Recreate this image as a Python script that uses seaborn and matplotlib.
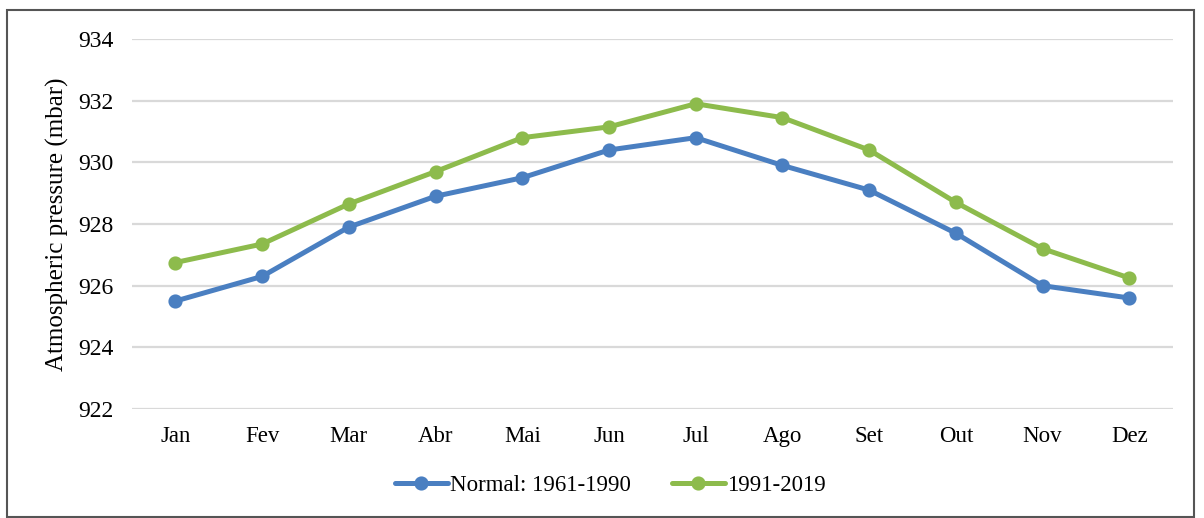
import matplotlib
matplotlib.use("Agg")
import matplotlib.pyplot as plt
import matplotlib.patches as mpatches
import seaborn as sns
import pandas as pd

months = ["Jan", "Fev", "Mar", "Abr", "Mai", "Jun", "Jul", "Ago", "Set", "Out", "Nov", "Dez"]
normal_1961_1990 = [925.5, 926.3, 927.9, 928.9, 929.5, 930.4, 930.8, 929.9, 929.1, 927.7, 926.0, 925.6]
period_1991_2019 = [926.75, 927.35, 928.65, 929.7, 930.8, 931.15, 931.9, 931.45, 930.4, 928.7, 927.2, 926.25]
series_names = ["Normal: 1961-1990", "1991-2019"]
colors = ["#4a7fc1", "#8dbb4c"]
y_ticks = [922, 924, 926, 928, 930, 932, 934]

df = pd.DataFrame({
    "month": months * 2,
    "value": normal_1961_1990 + period_1991_2019,
    "series": [series_names[0]] * len(months) + [series_names[1]] * len(months),
})

sns.set_theme(style="white")
plt.rcParams["font.family"] = ["Liberation Serif", "DejaVu Serif"]
plt.rcParams["text.color"] = "black"
plt.rcParams["xtick.color"] = "black"
plt.rcParams["ytick.color"] = "black"
plt.rcParams["axes.labelcolor"] = "black"

fig = plt.figure(figsize=(12.04, 5.18), dpi=100)
ax = fig.add_axes([0.1096, 0.2104, 0.974 - 0.1096, 0.9247 - 0.2104])

sns.pointplot(data=df, x="month", y="value", hue="series", order=months,
              hue_order=series_names, palette=colors, markers="o",
              linestyles="-", errorbar=None, markersize=7.5, linewidth=3.6,
              ax=ax, legend=True)

ax.set_xlim(-0.5, 11.5)
ax.set_ylim(922, 934)
ax.set_yticks(y_ticks)
ax.set_yticklabels([str(t) for t in y_ticks], fontsize=17)
ax.tick_params(axis="x", labelsize=16.5, length=0, pad=12)
ax.tick_params(axis="y", length=0, pad=13)
ax.yaxis.grid(True, color="#d9d9d9", linewidth=1.6)
ax.set_axisbelow(True)
for s in ax.spines.values():
    s.set_visible(False)
ax.set_xlabel("")
ax.set_ylabel("Atmospheric pressure (mbar)", fontsize=18, labelpad=7)

handles, labels = ax.get_legend_handles_labels()
ax.get_legend().remove()
fig.legend(handles, labels, loc="center", bbox_to_anchor=(0.507, 0.062),
           ncol=2, frameon=False, fontsize=16.5, handlelength=2.3,
           handletextpad=0.1, columnspacing=1.8)

border = mpatches.Rectangle((7 / 1204, 1 - 517 / 518), (1194 - 7) / 1204, (517 - 10) / 518,
                            transform=fig.transFigure, fill=False,
                            edgecolor="#555555", linewidth=1.5)
fig.patches.append(border)

fig.savefig("out.png", dpi=100, facecolor="white")
